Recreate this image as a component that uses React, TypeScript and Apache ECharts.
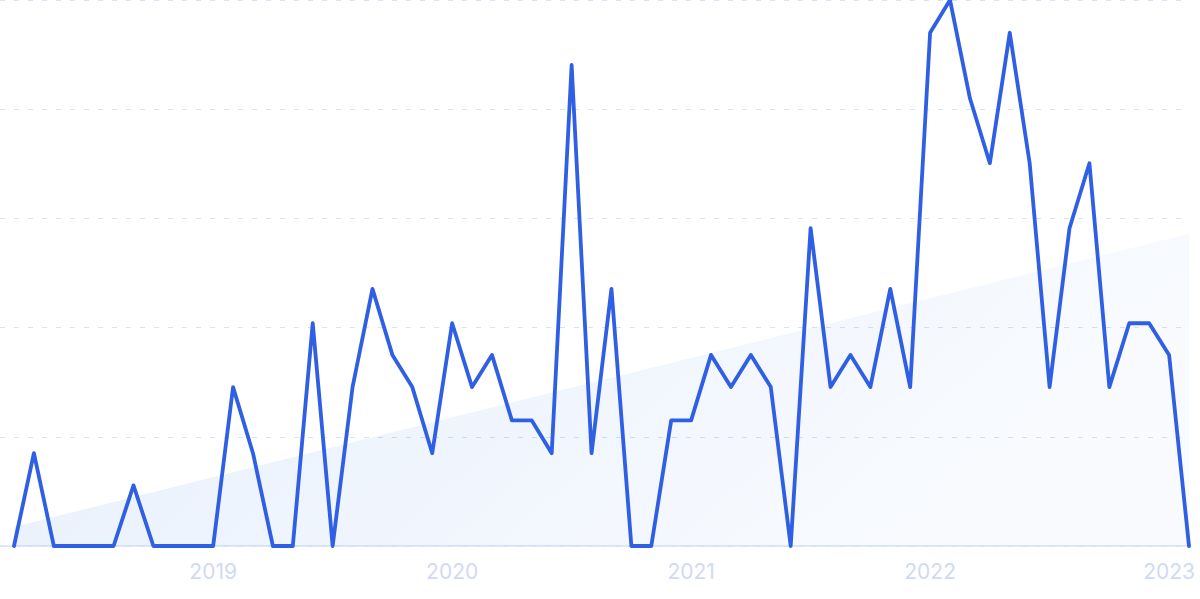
import React, { useEffect, useRef } from "react";
import * as echarts from "echarts";

// Monthly categories: 2018-03 .. 2023-02
const startYear = 2018;
const startMonth = 3;
const monthCount = 60;
const months: string[] = [];
for (let i = 0; i < monthCount; i++) {
  const m = startMonth - 1 + i;
  const y = startYear + Math.floor(m / 12);
  const mm = (m % 12) + 1;
  months.push(`${y}-${mm < 10 ? "0" + mm : mm}`);
}

// Relative values (0-100)
const values: number[] = [
  0, 17, 0, 0, 0, 0, 11.1, 0, 0, 0,
  0, 29.1, 17, 0, 0, 40.8, 0, 29.1, 47.1, 35,
  29.1, 17, 40.8, 29.1, 35, 23, 23, 17, 88.1, 17,
  47.1, 0, 0, 23, 23, 35, 29.1, 35, 29.1, 0,
  58.2, 29.1, 35, 29.1, 47.1, 29.1, 94, 100, 82, 70.1,
  94, 70.1, 29.1, 58.2, 70.1, 29.1, 40.8, 40.8, 35, 0,
];

// Trend line endpoints (first and last month)
const trendStart = 3.5;
const trendEnd = 57.2;

const yMax = 100;
const yInterval = 20;

export default function App() {
  const ref = useRef<HTMLDivElement>(null);

  useEffect(() => {
    if (!ref.current) return;
    const chart = echarts.init(ref.current, undefined, { renderer: "svg" });
    chart.setOption({
      animation: false,
      grid: [
        { left: 14, right: 11, top: 0, bottom: 53, containLabel: false },
        { left: 0, right: 12, top: 0, bottom: 53, containLabel: false },
      ],
      xAxis: [
        {
          type: "category",
          gridIndex: 0,
          data: months,
          boundaryGap: false,
          axisLine: { show: false },
          axisTick: { show: false },
          splitLine: { show: false },
          axisLabel: {
            interval: (_i: number, v: string) => v.endsWith("-01"),
            formatter: (v: string) => v.slice(0, 4),
            color: "#d0daf4",
            fontSize: 21,
            fontFamily: "Inter",
            margin: 15,
          },
        },
        {
          type: "value",
          gridIndex: 1,
          min: 0,
          max: 1,
          show: true,
          axisLine: { show: true, lineStyle: { color: "#d3e3f8", width: 1.5 } },
          axisTick: { show: false },
          axisLabel: { show: false },
          splitLine: { show: false },
        },
      ],
      yAxis: [
        {
          type: "value",
          gridIndex: 0,
          min: 0,
          max: yMax,
          interval: yInterval,
          show: false,
          splitLine: { show: false },
        },
        {
          type: "value",
          gridIndex: 1,
          min: 0,
          max: yMax,
          interval: yInterval,
          axisLine: { show: false },
          axisTick: { show: false },
          axisLabel: { show: false },
          splitLine: {
            show: true,
            lineStyle: { color: "#d6e2fa", width: 1, type: [5, 9] },
          },
        },
      ],
      series: [
        {
          name: "trend",
          type: "line",
          xAxisIndex: 0,
          yAxisIndex: 0,
          data: [
            [0, trendStart],
            [monthCount - 1, trendEnd],
          ],
          symbol: "none",
          lineStyle: { width: 0, opacity: 0 },
          areaStyle: {
            color: new echarts.graphic.LinearGradient(0, 0, 1, 0.3, [
              { offset: 0, color: "rgba(47,120,230,0.17)" },
              { offset: 1, color: "rgba(47,120,230,0.045)" },
            ]),
          },
          silent: true,
          z: 1,
        },
        {
          name: "value",
          type: "line",
          xAxisIndex: 0,
          yAxisIndex: 0,
          data: values,
          symbol: "none",
          lineStyle: { color: "#2f5fe3", width: 3.8, join: "round", cap: "round" },
          clip: false,
          z: 3,
        },
      ],
    });
    return () => chart.dispose();
  }, []);

  return (
    <div
      ref={ref}
      style={{ position: "fixed", left: 0, top: 0, width: 1200, height: 599, background: "#fff" }}
    />
  );
}
